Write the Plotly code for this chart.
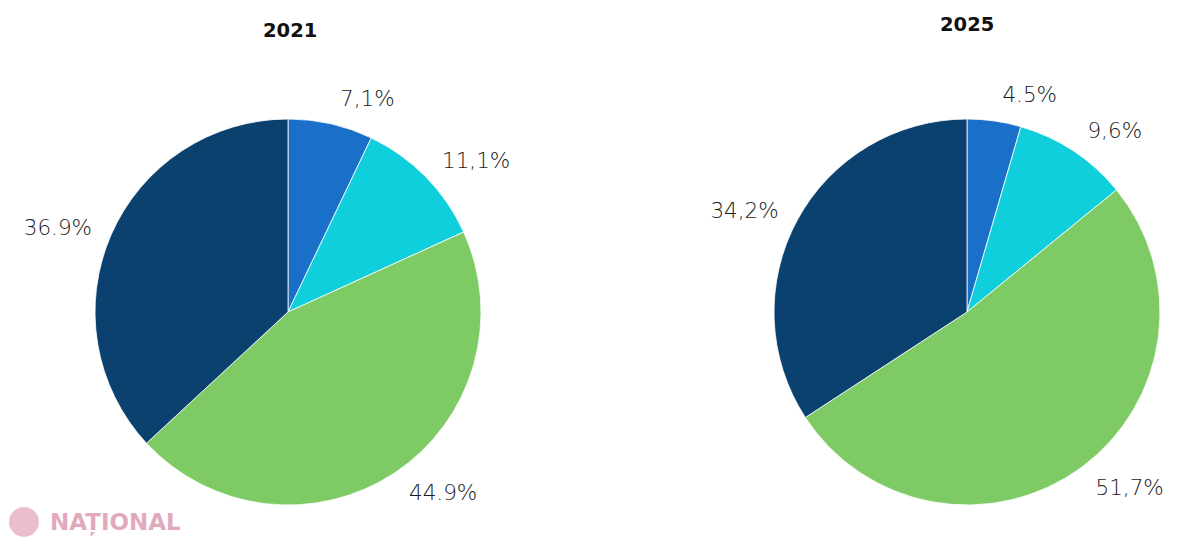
import plotly.graph_objects as go

categories = ["Categoria 1", "Categoria 2", "Categoria 3", "Categoria 4"]
values_2021 = [7.1, 11.1, 44.9, 36.9]
values_2025 = [4.5, 9.6, 51.7, 34.2]
labels_2021 = ["7,1%", "11,1%", "44.9%", "36.9%"]
labels_2025 = ["4.5%", "9,6%", "51,7%", "34,2%"]
years = ["2021", "2025"]

colors = ["#1a6fc9", "#10cfdc", "#7ecb65", "#0b416f"]

W, H = 1200, 542
OX, OY = 8, 8  # page body offset


def px(x, y):
    return (x - OX) / W, 1 - (y - OY) / H


def px_dom(cx, cy, r, halfw):
    x0, y0 = px(cx - halfw, cy + r)
    x1, y1 = px(cx + halfw, cy - r)
    return dict(x=[max(0.0, x0), min(1.0, x1)], y=[y0, y1])


label_font = dict(family="DejaVu Sans", size=21.5, color="#1a1a1a", weight=300)

fig = go.Figure()
for vals, txt, cx, hw in [
    (values_2021, labels_2021, 288, 262),
    (values_2025, labels_2025, 968, 242),
]:
    # transparent ring carrying the outside labels, slightly larger than the pie
    fig.add_trace(go.Pie(
        labels=categories, values=vals, text=txt,
        textinfo="text", textposition="outside",
        sort=False, direction="clockwise", rotation=0,
        marker=dict(colors=["rgba(0,0,0,0)"] * 4, line=dict(width=0)),
        outsidetextfont=label_font,
        domain=px_dom(cx, 312, 207, hw), showlegend=False, hoverinfo="skip",
    ))
    fig.add_trace(go.Pie(
        labels=categories, values=vals, text=txt,
        textinfo="none",
        sort=False, direction="clockwise", rotation=0,
        marker=dict(colors=colors, line=dict(color="white", width=0.8)),
        domain=px_dom(cx, 312, 193, hw), showlegend=False,
        hovertemplate="%{label}: %{text}<extra></extra>",
    ))

fig.update_layout(
    width=W, height=H,
    margin=dict(l=0, r=0, t=0, b=0, pad=0, autoexpand=False),
    paper_bgcolor="white", plot_bgcolor="white",
)
for yr, (tx, ty) in zip(years, [(290, 30), (967, 24)]):
    ax, ay = px(tx, ty)
    fig.add_annotation(x=ax, y=ay, xref="paper", yref="paper", text="<b>" + yr + "</b>",
                       showarrow=False, xanchor="center", yanchor="middle",
                       font=dict(family="DejaVu Sans", size=19.5, color="#111111", weight=700))

wx, wy = px(48, 522)
fig.add_annotation(x=wx, y=wy, xref="paper", yref="paper", text="<b>NAȚIONAL</b>",
                   showarrow=False, xanchor="left", yanchor="middle",
                   font=dict(family="DejaVu Sans", size=23, color="#d98ca6", weight=800), opacity=0.75)
c0x, c0y = px(9, 537)
c1x, c1y = px(39, 507)
fig.add_shape(type="circle", xref="paper", yref="paper",
              x0=c0x, x1=c1x, y0=c0y, y1=c1y,
              fillcolor="#e2a3bb", line=dict(width=0), opacity=0.7)

fig.write_html("out.html")
